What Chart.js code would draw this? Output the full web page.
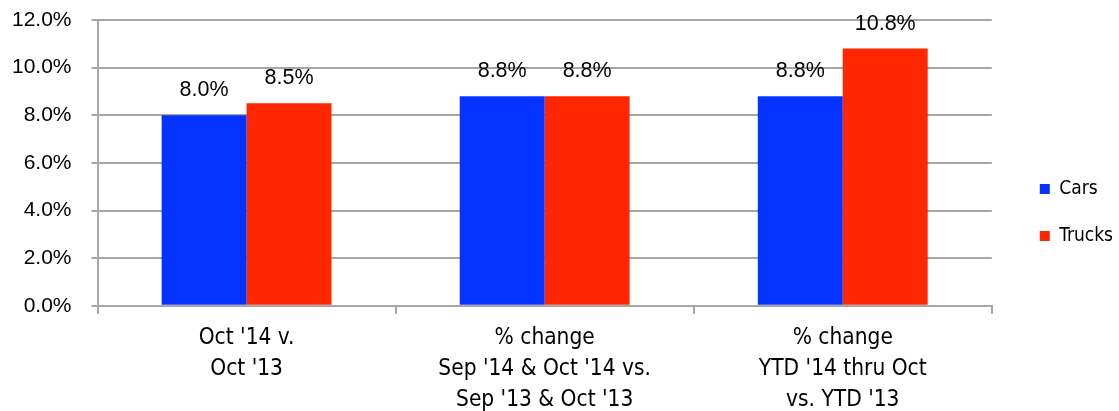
<!DOCTYPE html>
<html>
<head>
<meta charset="utf-8">
<script src="https://cdn.jsdelivr.net/npm/chart.js@4.4.1/dist/chart.umd.min.js"></script>
<style>
  html, body { margin: 0; padding: 0; background: #ffffff; }
  #wrap { width: 1119px; height: 411px; position: relative; }
</style>
</head>
<body>
<div id="wrap"><canvas id="salesChart"></canvas></div>
<script>
// Categorías (etiquetas multilínea)
const categories = [
    ["Oct '14 v.", "Oct '13"],
    ["% change", "Sep '14 & Oct '14 vs.", "Sep '13 & Oct '13"],
    ["% change", "YTD '14 thru Oct", "vs. YTD '13"]
];
const carsValues = [8.0, 8.8, 8.8];
const trucksValues = [8.5, 8.8, 10.8];
const yTicks = [0, 2, 4, 6, 8, 10, 12];

const narrow = "'DejaVu Sans Condensed', 'Liberation Sans', sans-serif";
const plain = "'Liberation Sans', Arial, sans-serif";
const gridGrey = '#a6a6a6';

// Etiquetas de valor encima de cada barra
const valueLabels = {
    id: 'valueLabels',
    afterDatasetsDraw(chart) {
        const ctx = chart.ctx;
        ctx.save();
        ctx.font = "21.5px " + plain;
        ctx.fillStyle = '#000000';
        ctx.textAlign = 'center';
        ctx.textBaseline = 'alphabetic';
        chart.data.datasets.forEach((ds, i) => {
            chart.getDatasetMeta(i).data.forEach((bar, j) => {
                ctx.fillText(ds.data[j].toFixed(1) + '%', bar.x, bar.y - 19);
            });
        });
        ctx.restore();
    }
};

// Desplaza la leyenda hacia la derecha (y un poco hacia arriba), como en el original
const legendShift = {
    id: 'legendShift',
    afterLayout(chart) {
        const lg = chart.legend;
        if (!lg) return;
        lg.left += 20;
        lg.right += 20;
        lg.top -= 10;
        lg.bottom -= 10;
    }
};

new Chart(document.getElementById('salesChart'), {
    type: 'bar',
    data: {
        labels: categories,
        datasets: [
            { label: 'Cars', data: carsValues, backgroundColor: '#0433ff', categoryPercentage: 0.57, barPercentage: 1.0 },
            { label: 'Trucks', data: trucksValues, backgroundColor: '#ff2600', categoryPercentage: 0.57, barPercentage: 1.0 }
        ]
    },
    options: {
        responsive: true,
        maintainAspectRatio: false,
        animation: false,
        layout: { padding: { top: 20, left: 12, right: 16, bottom: -14 } },
        scales: {
            x: {
                grid: { offset: true, drawOnChartArea: false, drawTicks: true, tickLength: 8, color: gridGrey, lineWidth: 2 },
                border: { color: gridGrey, width: 2 },
                ticks: {
                    color: '#000000',
                    padding: 9,
                    maxRotation: 0,
                    autoSkip: false,
                    font: { family: narrow, size: 22.5, lineHeight: 1.38 }
                }
            },
            y: {
                min: 0,
                max: 12,
                afterBuildTicks(axis) { axis.ticks = yTicks.map(v => ({ value: v })); },
                // marca corta de 6px pegada al eje, el resto del hueco vacío
                grid: { color: gridGrey, lineWidth: 2, tickLength: 26, tickBorderDash: [0, 20, 6, 0] },
                border: { color: gridGrey, width: 2 },
                ticks: {
                    color: '#000000',
                    padding: 0,
                    font: { family: plain, size: 21 },
                    callback: v => Number(v).toFixed(1) + '%'
                }
            }
        },
        plugins: {
            legend: {
                position: 'right',
                labels: {
                    color: '#000000',
                    boxWidth: 10,
                    boxHeight: 10,
                    padding: 28,
                    font: { family: narrow, size: 19 }
                }
            },
            tooltip: { enabled: false }
        }
    },
    plugins: [valueLabels, legendShift]
});
</script>
</body>
</html>
